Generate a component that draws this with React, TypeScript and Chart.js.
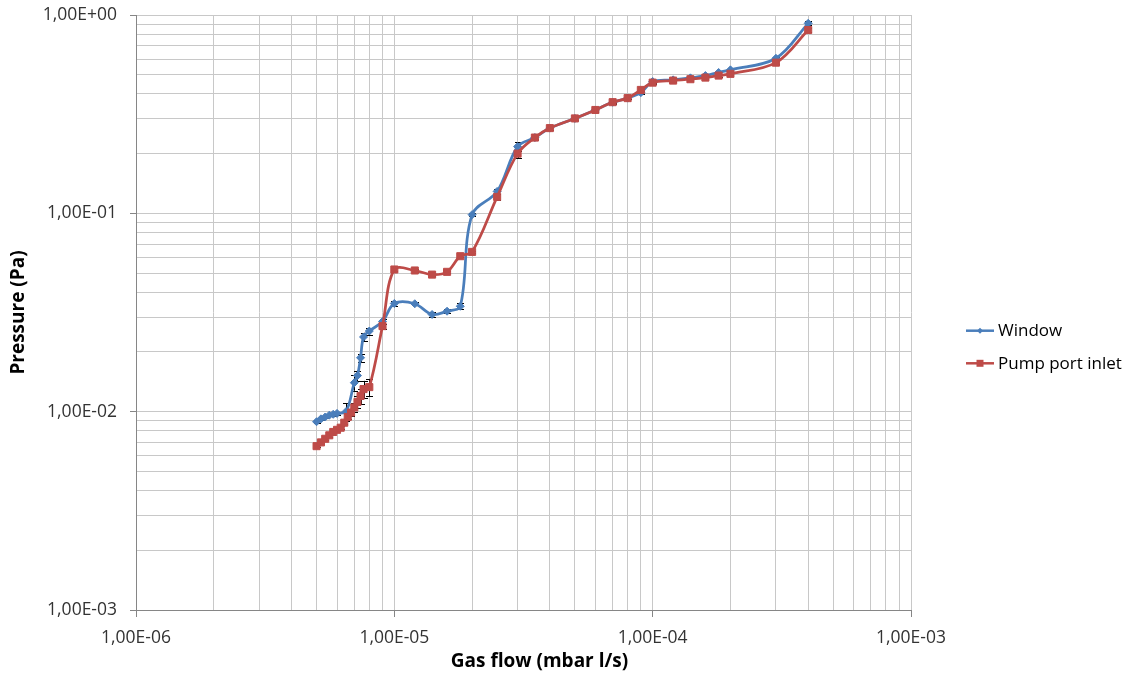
import React, { useEffect, useRef } from "react";
import { Chart, registerables } from "chart.js";

Chart.register(...registerables);

// ---------- data ----------
const windowFlow = [
  5.0e-6, 5.2e-6, 5.4e-6, 5.6e-6, 5.8e-6, 6.0e-6, 6.5e-6, 7.0e-6, 7.2e-6, 7.4e-6, 7.6e-6, 8.0e-6, 9.0e-6,
  1.0e-5, 1.2e-5, 1.4e-5, 1.6e-5, 1.8e-5, 2.0e-5, 2.5e-5, 3.0e-5, 3.5e-5, 4.0e-5, 5.0e-5, 6.0e-5, 7.0e-5, 8.0e-5, 9.0e-5,
  1.0e-4, 1.2e-4, 1.4e-4, 1.6e-4, 1.8e-4, 2.0e-4, 3.0e-4, 4.0e-4,
];
const windowPressure = [
  0.0089, 0.0092, 0.0094, 0.0096, 0.0097, 0.0098, 0.0100, 0.0140, 0.0152, 0.0187, 0.0238, 0.0255, 0.0285,
  0.0351, 0.0350, 0.0309, 0.0321, 0.0340, 0.0985, 0.129, 0.217, 0.241, 0.269, 0.301, 0.332, 0.363, 0.381, 0.406,
  0.462, 0.471, 0.482, 0.495, 0.513, 0.529, 0.605, 0.908,
];
const windowErr = [
  0.015, 0.015, 0.015, 0.015, 0.015, 0.015, 0.1, 0.09, 0.06, 0.05, 0.05, 0.04, 0.03,
  0.025, 0.02, 0.03, 0.025, 0.035, 0.015, 0.03, 0.05, 0.02, 0.02, 0.02, 0.02, 0.02, 0.015, 0.015,
  0.015, 0.015, 0.015, 0.02, 0.02, 0.015, 0.02, 0.025,
];

const pumpFlow = [
  5.0e-6, 5.2e-6, 5.4e-6, 5.6e-6, 5.8e-6, 6.0e-6, 6.2e-6, 6.4e-6, 6.6e-6, 6.8e-6, 7.0e-6, 7.2e-6, 7.4e-6, 7.6e-6, 8.0e-6, 9.0e-6,
  1.0e-5, 1.2e-5, 1.4e-5, 1.6e-5, 1.8e-5, 2.0e-5, 2.5e-5, 3.0e-5, 3.5e-5, 4.0e-5, 5.0e-5, 6.0e-5, 7.0e-5, 8.0e-5, 9.0e-5,
  1.0e-4, 1.2e-4, 1.4e-4, 1.6e-4, 1.8e-4, 2.0e-4, 3.0e-4, 4.0e-4,
];
const pumpPressure = [
  0.0067, 0.0070, 0.0073, 0.0076, 0.0079, 0.0081, 0.0083, 0.0088, 0.0094, 0.0099, 0.0105, 0.0112, 0.0120, 0.0130, 0.0133, 0.0270,
  0.0521, 0.0515, 0.0491, 0.0507, 0.0608, 0.0639, 0.121, 0.200, 0.241, 0.269, 0.301, 0.332, 0.3635, 0.381, 0.419,
  0.456, 0.467, 0.4745, 0.4835, 0.495, 0.505, 0.575, 0.84,
];
const pumpErr = [
  0.015, 0.015, 0.015, 0.015, 0.015, 0.015, 0.015, 0.015, 0.025, 0.035, 0.05, 0.07, 0.09, 0.1, 0.1, 0.03,
  0.015, 0.015, 0.015, 0.015, 0.015, 0.015, 0.03, 0.05, 0.025, 0.02, 0.015, 0.015, 0.015, 0.015, 0.015,
  0.015, 0.015, 0.015, 0.015, 0.015, 0.015, 0.02, 0.025,
];

const seriesNames = ["Window", "Pump port inlet"];
const seriesColors = ["#4A7EBB", "#BE4B48"];

const xDecades = [-6, -5, -4, -3];
const yDecades = [-3, -2, -1, 0];
const mantissas = [1, 2, 3, 4, 5, 6, 7, 8, 9];

const xTitle = "Gas flow (mbar l/s)";
const yTitle = "Pressure (Pa)";

// ---------- helpers ----------
const FONT = "'Open Sans', 'Noto Sans', sans-serif";

function buildTicks(decades: number[]): number[] {
  const out: number[] = [];
  decades.forEach((d, i) => {
    if (i < decades.length - 1) {
      mantissas.forEach((m) => out.push(parseFloat((m * Math.pow(10, d)).toPrecision(6))));
    } else {
      out.push(Math.pow(10, d));
    }
  });
  return out;
}
const xTicks = buildTicks(xDecades);
const yTicks = buildTicks(yDecades);

function isPow10(v: number): boolean {
  const l = Math.log10(v);
  return Math.abs(l - Math.round(l)) < 1e-6;
}
function sci(v: number): string {
  const e = Math.round(Math.log10(v));
  const m = v / Math.pow(10, e);
  return (
    m.toFixed(2).replace(".", ",") +
    "E" +
    (e < 0 ? "-" : "+") +
    String(Math.abs(e)).padStart(2, "0")
  );
}

const errorsByDataset = [windowErr, pumpErr];

// error bars are drawn beneath the markers, as in the original
const errorBarPlugin = {
  id: "errorBars",
  beforeDatasetsDraw(chart: any) {
    const ctx = chart.ctx;
    const xs = chart.scales.x;
    const ys = chart.scales.y;
    ctx.save();
    ctx.strokeStyle = "#000";
    ctx.lineWidth = 1;
    chart.data.datasets.forEach((ds: any, di: number) => {
      const errs = errorsByDataset[di];
      ds.data.forEach((p: any, i: number) => {
        const e = errs[i];
        const px = Math.round(xs.getPixelForValue(p.x)) + 0.5;
        const yHi = ys.getPixelForValue(p.y * (1 + e));
        const yLo = ys.getPixelForValue(p.y * (1 - e));
        const cap = 3.5;
        ctx.beginPath();
        ctx.moveTo(px, yHi);
        ctx.lineTo(px, yLo);
        ctx.moveTo(px - cap, Math.round(yHi) + 0.5);
        ctx.lineTo(px + cap, Math.round(yHi) + 0.5);
        ctx.moveTo(px - cap, Math.round(yLo) + 0.5);
        ctx.lineTo(px + cap, Math.round(yLo) + 0.5);
        ctx.stroke();
      });
    });
    ctx.restore();
  },
};

const decorPlugin = {
  id: "decor",
  afterDraw(chart: any) {
    const ctx = chart.ctx;
    const area = chart.chartArea;
    ctx.save();
    // axis titles
    ctx.fillStyle = "#000";
    ctx.font = `bold 19px ${FONT}`;
    ctx.textAlign = "center";
    ctx.textBaseline = "middle";
    ctx.fillText(xTitle, (area.left + area.right) / 2 + 16, chart.height - 15);
    ctx.save();
    ctx.translate(19, (area.top + area.bottom) / 2);
    ctx.rotate(-Math.PI / 2);
    ctx.fillText(yTitle, 0, 0);
    ctx.restore();

    // legend
    const lx = area.right + 55;
    const cy = chart.height / 2 + 8.5;
    const gap = 32.6;
    ctx.font = `17px ${FONT}`;
    ctx.textAlign = "left";
    seriesNames.forEach((name, i) => {
      const y = cy + (i - 0.5) * gap;
      ctx.strokeStyle = seriesColors[i];
      ctx.fillStyle = seriesColors[i];
      ctx.lineWidth = 2.5;
      ctx.beginPath();
      ctx.moveTo(lx, y);
      ctx.lineTo(lx + 28, y);
      ctx.stroke();
      ctx.beginPath();
      if (i === 0) {
        const r = 3;
        ctx.moveTo(lx + 14 - r, y);
        ctx.lineTo(lx + 14, y - r);
        ctx.lineTo(lx + 14 + r, y);
        ctx.lineTo(lx + 14, y + r);
        ctx.closePath();
      } else {
        ctx.rect(lx + 14 - 3.5, y - 3.5, 7, 7);
      }
      ctx.fill();
      ctx.fillStyle = "#000";
      ctx.fillText(name, lx + 32, y + 0.5);
    });
    ctx.restore();
  },
};

function axisCommon(ticks: number[], tickLength: number, padding: number) {
  return {
    type: "logarithmic" as const,
    afterBuildTicks: (s: any) => {
      s.ticks = ticks.map((v) => ({ value: v, major: isPow10(v) }));
    },
    ticks: {
      autoSkip: false,
      maxRotation: 0,
      minRotation: 0,
      padding,
      color: "#333333",
      font: { family: FONT, size: 17.5 },
      callback: (v: any) => (isPow10(Number(v)) ? sci(Number(v)) : ""),
    },
    grid: {
      color: "#c8c8c8",
      lineWidth: 1,
      tickLength,
      tickColor: (c: any) =>
        c.tick && isPow10(c.tick.value) ? "#868686" : "rgba(0,0,0,0)",
    },
    border: { color: "#868686", width: 1 },
  };
}

export default function App() {
  const canvasRef = useRef<HTMLCanvasElement | null>(null);

  useEffect(() => {
    if (!canvasRef.current) return;
    const chart = new Chart(canvasRef.current, {
      type: "scatter",
      data: {
        datasets: [
          {
            label: seriesNames[0],
            order: 1,
            data: windowFlow.map((x, i) => ({ x, y: windowPressure[i] })),
            showLine: true,
            borderColor: seriesColors[0],
            backgroundColor: seriesColors[0],
            borderWidth: 2.75,
            tension: 0.35,
            pointStyle: "rectRot",
            pointRadius: 4,
            pointBorderWidth: 1,
            pointBorderColor: seriesColors[0],
            pointBackgroundColor: seriesColors[0],
          },
          {
            label: seriesNames[1],
            order: 0,
            data: pumpFlow.map((x, i) => ({ x, y: pumpPressure[i] })),
            showLine: true,
            borderColor: seriesColors[1],
            backgroundColor: seriesColors[1],
            borderWidth: 2.75,
            tension: 0.35,
            pointStyle: "rect",
            pointRadius: 5,
            pointBorderWidth: 1,
            pointBorderColor: seriesColors[1],
            pointBackgroundColor: seriesColors[1],
          },
        ],
      },
      options: {
        responsive: true,
        maintainAspectRatio: false,
        animation: false,
        layout: { autoPadding: false, padding: { top: 15, right: 222, bottom: 0, left: 0 } },
        plugins: {
          legend: { display: false },
          tooltip: { enabled: false },
        },
        scales: {
          x: {
            ...axisCommon(xTicks, 7, 11),
            min: 1e-6,
            max: 1e-3,
            afterFit: (s: any) => {
              s.height = 67;
              s.paddingLeft = 0;
              s.paddingRight = 0;
            },
          },
          y: {
            ...axisCommon(yTicks, 6, 13),
            min: 1e-3,
            max: 1,
            afterFit: (s: any) => {
              s.width = 136;
              s.paddingTop = 0;
              s.paddingBottom = 0;
            },
          },
        },
      } as any,
      plugins: [errorBarPlugin, decorPlugin],
    });
    return () => chart.destroy();
  }, []);

  return (
    <div
      style={{
        position: "absolute",
        left: 0,
        top: 0,
        width: 1133,
        height: 677,
        background: "#fff",
      }}
    >
      <canvas ref={canvasRef} />
    </div>
  );
}
